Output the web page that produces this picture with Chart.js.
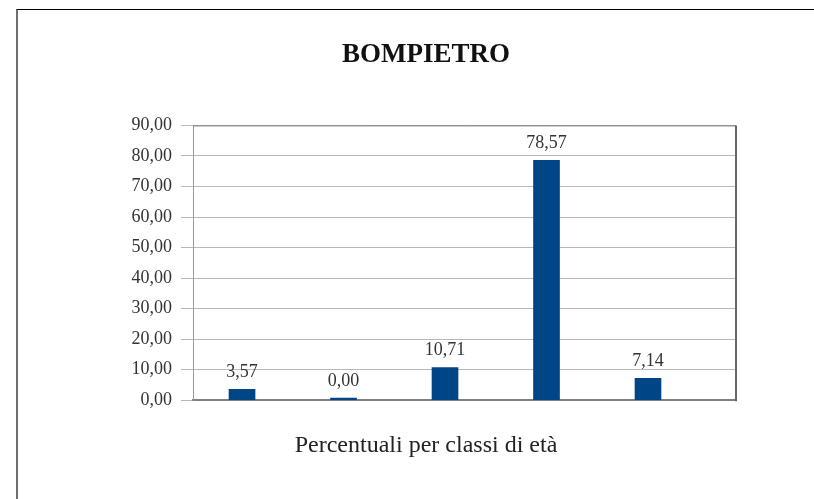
<!DOCTYPE html>
<html>
<head>
<meta charset="utf-8">
<script src="https://cdn.jsdelivr.net/npm/chart.js@4"></script>
<style>
    html, body { margin: 0; padding: 0; background: #fff; overflow: hidden; }
    #frame {
        position: absolute; left: 16px; top: 9px; width: 900px; height: 600px;
        border-left: 2px solid #6e6e6e; border-top: 1px solid #000;
    }
    #grafico { position: absolute; left: 18px; top: 10px; }
</style>
</head>
<body>
<div id="frame"></div>
<canvas id="grafico" width="816" height="489" style="width:816px;height:489px"></canvas>
<script>
// Valori (percentuali per classi di età)
const titolo = 'BOMPIETRO';
const titoloAsse = 'Percentuali per classi di età';
const classi = [0, 1, 2, 3, 4];
const percentuali = [3.57, 0.00, 10.71, 78.57, 7.14];
const tickValori = [0, 10, 20, 30, 40, 50, 60, 70, 80, 90];

const serif = '"Liberation Serif", "DejaVu Serif", serif';

function formatta(v) {
    return v.toFixed(2).replace('.', ',');
}

// etichette sopra le barre
const etichette = {
    id: 'etichette',
    afterDatasetsDraw(chart) {
        const ctx = chart.ctx;
        const meta = chart.getDatasetMeta(0);
        ctx.save();
        ctx.font = '18px ' + serif;
        ctx.fillStyle = '#333';
        ctx.textAlign = 'center';
        ctx.textBaseline = 'alphabetic';
        meta.data.forEach((bar, i) => {
            ctx.fillText(formatta(percentuali[i]), bar.x, bar.y - 12);
        });
        ctx.restore();
    }
};

// bordo superiore e destro dell'area del grafico
const bordo = {
    id: 'bordo',
    afterDraw(chart) {
        const a = chart.chartArea;
        const ctx = chart.ctx;
        ctx.save();
        ctx.strokeStyle = '#7a7a7a';
        ctx.lineWidth = 1;
        ctx.beginPath();
        ctx.moveTo(a.left, a.top + 0.5);
        ctx.lineTo(a.right, a.top + 0.5);
        ctx.stroke();
        ctx.strokeStyle = '#666';
        ctx.lineWidth = 2;
        ctx.beginPath();
        ctx.moveTo(a.right, a.top);
        ctx.lineTo(a.right, a.bottom + 1);
        ctx.stroke();
        ctx.restore();
    }
};

const ctx = document.getElementById('grafico').getContext('2d');
const grafico = new Chart(ctx, {
    type: 'bar',
    data: {
        datasets: [{
            data: classi.map((c, i) => ({ x: c, y: percentuali[i] })),
            backgroundColor: '#004586',
            borderWidth: 0,
            barThickness: 26,
            minBarLength: 2
        }]
    },
    options: {
        responsive: false,
        animation: false,
        devicePixelRatio: 1,
        layout: { padding: 0 },
        plugins: {
            legend: { display: false },
            tooltip: { enabled: false },
            title: {
                display: true,
                text: titolo,
                color: '#111',
                font: { family: serif, size: 27, weight: 'bold' },
                padding: { top: 29, bottom: 54 }
            },
            subtitle: {
                display: true,
                position: 'bottom',
                text: titoloAsse,
                color: '#222',
                font: { family: serif, size: 24 },
                padding: { top: 21, bottom: 39 }
            }
        },
        scales: {
            x: {
                type: 'linear',
                offset: false,
                min: -0.483,
                max: 4.867,
                ticks: { display: false },
                grid: { display: false },
                border: { display: true, color: '#808080', width: 2 },
                afterFit(scale) { scale.height = 10; }
            },
            y: {
                min: 0,
                max: 90,
                afterBuildTicks(scale) {
                    scale.ticks = tickValori.map(v => ({ value: v }));
                },
                ticks: {
                    color: '#333',
                    padding: 9,
                    font: { family: serif, size: 18 },
                    callback: v => formatta(v)
                },
                grid: { color: '#b8b8b8', lineWidth: 1, tickLength: 12 },
                border: { display: true, color: '#9a9a9a', width: 1 },
                afterFit(scale) { scale.width = 175; }
            },
            // spazio vuoto a destra dell'area del grafico
            destra: {
                position: 'right',
                min: 0,
                max: 90,
                ticks: { display: false },
                grid: { display: false },
                border: { display: false },
                afterFit(scale) { scale.width = 98; }
            }
        }
    },
    plugins: [etichette, bordo]
});
</script>
</body>
</html>
